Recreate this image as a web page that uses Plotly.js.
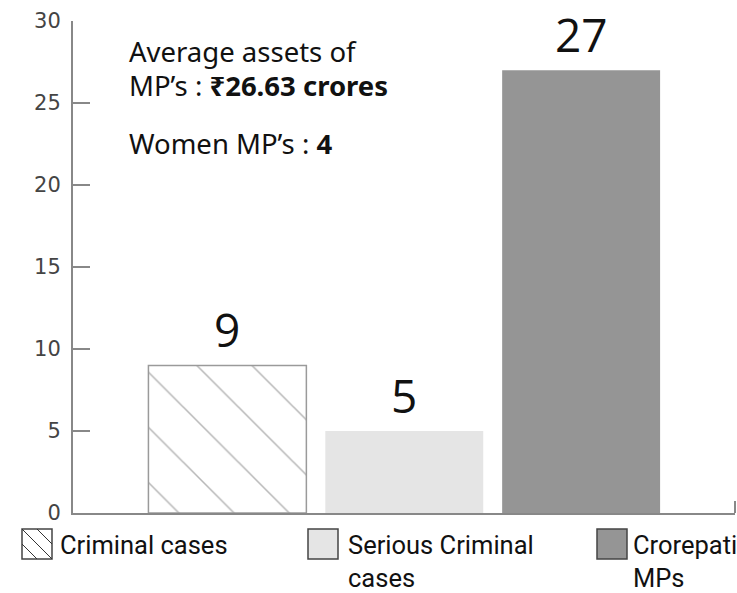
<!DOCTYPE html>
<html>
<head>
<meta charset="utf-8">
<script src="https://cdn.plot.ly/plotly-3.0.1.min.js"></script>
<style>html,body{margin:0;padding:0;background:#fff;}#chart{width:737px;height:593px;}</style>
</head>
<body>
<div id="chart"></div>
<script>
// ---- data ----
var categories = ["Criminal cases", "Serious Criminal cases", "Crorepati MPs"];
var legendLabels = ["Criminal cases", "Serious Criminal<br>cases", "Crorepati<br>MPs"];
var values = [9, 5, 27];
var yTickValues = [0, 5, 10, 15, 20, 25, 30];
var noteLines = ["Average assets of", "MP’s : <b>₹26.63 crores</b>", "Women MP’s : <b>4</b>"];

// ---- layout helpers (pixel -> paper) ----
var W = 737, H = 593, L = 73, R = 2, T = 21, B = 80;
var pw = W - L - R, ph = H - T - B;
function px(x) { return (x - L) / pw; }
function py(y) { return (H - B - y) / ph; }

var barColors = ["#ffffff", "#e5e5e5", "#959595"];
var barPatterns = ["\\", "", ""];
var barLineWidths = [1.5, 0, 0];

var traces = categories.map(function (c, i) {
  var m = {
    color: barColors[i],
    line: { color: "#9a9a9a", width: barLineWidths[i] }
  };
  if (barPatterns[i]) {
    m.pattern = { shape: barPatterns[i], size: 39, solidity: 0.04, fgcolor: "#707070", bgcolor: "#ffffff", fillmode: "overlay" };
  }
  return {
    type: "bar", name: c,
    x: [i], y: [values[i]],
    width: 0.893,
    marker: m,
    hoverinfo: "skip",
    showlegend: false
  };
});

var annotations = [];
// value labels
values.forEach(function (v, i) {
  annotations.push({
    x: i, y: v, xref: "x", yref: "y", text: String(v), showarrow: false,
    xanchor: "center", yanchor: "bottom", yshift: 3,
    font: { family: "Open Sans, Noto Sans, sans-serif", size: 46, color: "#111" }
  });
});
// note text
var noteY = [51, 85, 143];
noteLines.forEach(function (t, i) {
  annotations.push({
    x: px(127), y: py(noteY[i]), xref: "paper", yref: "paper", text: t, showarrow: false,
    xanchor: "left", yanchor: "middle",
    font: { family: "Noto Sans, Open Sans, sans-serif", size: 27.5, color: "#111" }
  });
});
// legend
var legBoxX = [22, 308, 597];
var legTextX = [58, 346, 631];
var shapes = [];
legendLabels.forEach(function (lab, i) {
  shapes.push({
    type: "rect", xref: "paper", yref: "paper",
    x0: px(legBoxX[i]), x1: px(legBoxX[i] + 30), y0: py(559), y1: py(529),
    fillcolor: barColors[i], line: { color: "#444", width: 1.5 }
  });
  annotations.push({
    x: px(legTextX[i]), y: py(528), xref: "paper", yref: "paper", text: lab, showarrow: false,
    xanchor: "left", yanchor: "top", align: "left",
    font: { family: "Roboto, sans-serif", size: 25.5, color: "#111" }
  });
});
// hatch inside first legend box
[[22, 529, 52, 559], [37, 529, 52, 544], [22, 544, 37, 559]].forEach(function (s) {
  shapes.push({
    type: "line", xref: "paper", yref: "paper",
    x0: px(s[0]), y0: py(s[1]), x1: px(s[2]), y1: py(s[3]),
    line: { color: "#333", width: 1 }
  });
});
// small tick at right end of x axis
shapes.push({ type: "line", xref: "paper", yref: "paper", x0: 1, x1: 1, y0: 0, y1: py(501), line: { color: "#888", width: 2 } });

var layout = {
  width: W, height: H,
  margin: { l: L, r: R, t: T, b: B, pad: 0 },
  paper_bgcolor: "#fff", plot_bgcolor: "#fff",
  showlegend: false,
  barmode: "overlay",
  xaxis: {
    range: [-0.873, 2.87], showticklabels: false, ticks: "", showgrid: false, zeroline: false,
    showline: true, linecolor: "#888", linewidth: 2, fixedrange: true
  },
  yaxis: {
    range: [0, 30], tickvals: yTickValues, ticks: "inside", ticklen: 17, tickwidth: 2, tickcolor: "#888",
    ticklabelstandoff: 6,
    showgrid: false, zeroline: false, showline: true, linecolor: "#888", linewidth: 2,
    tickfont: { family: "DejaVu Sans, sans-serif", size: 21, color: "#444" }, fixedrange: true
  },
  annotations: annotations,
  shapes: shapes
};

Plotly.newPlot("chart", traces, layout, { displayModeBar: false, staticPlot: true });
</script>
</body>
</html>
